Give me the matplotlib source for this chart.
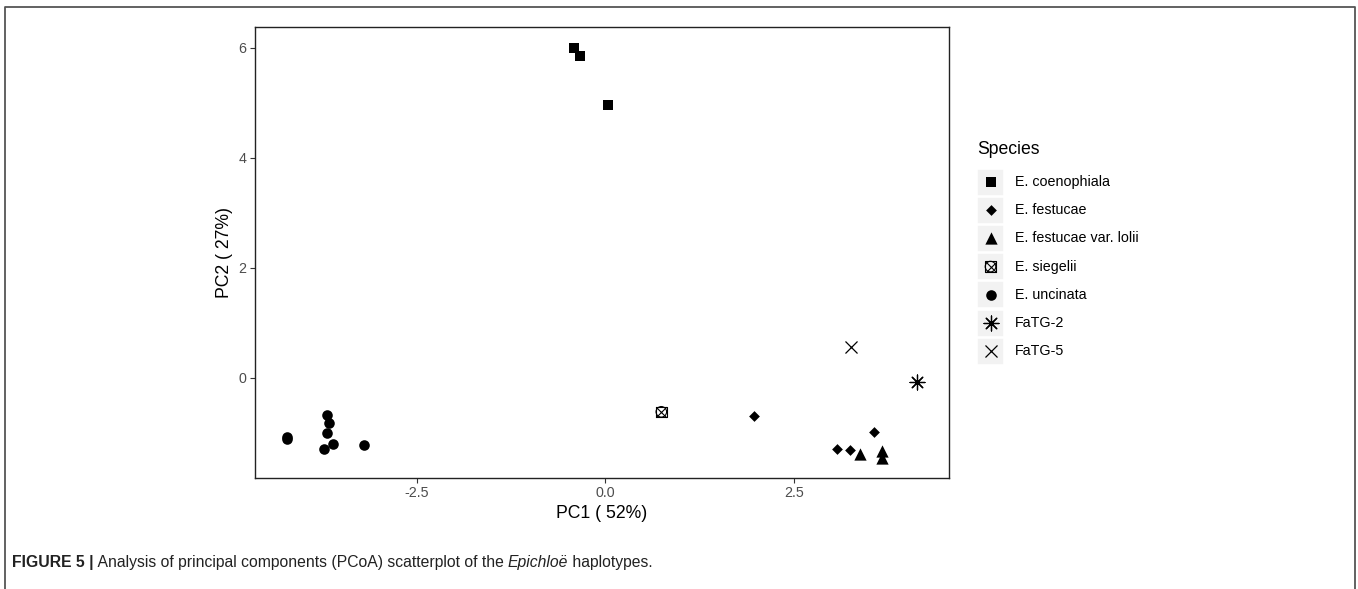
import matplotlib
matplotlib.use("Agg")
import matplotlib.pyplot as plt
from matplotlib import font_manager
from matplotlib.patches import Rectangle
from matplotlib.lines import Line2D

W, H = 1358, 589
plt.rcParams['font.family'] = ['Liberation Sans', 'DejaVu Sans']

# ---------------- data ----------------
species = ["E. coenophiala", "E. festucae", "E. festucae var. lolii",
           "E. siegelii", "E. uncinata", "FaTG-2", "FaTG-5"]
coen_x = [-0.41, -0.34, 0.03]
coen_y = [6.00, 5.85, 4.95]
fest_x = [1.97, 3.56, 3.07, 3.24]
fest_y = [-0.69, -0.98, -1.30, -1.32]
loli_x = [3.37, 3.66, 3.66]
loli_y = [-1.38, -1.34, -1.45]
sieg_x = [0.74]
sieg_y = [-0.62]
unci_x = [-4.22, -4.22, -3.68, -3.66, -3.69, -3.61, -3.73, -3.19]
unci_y = [-1.07, -1.12, -0.67, -0.83, -1.00, -1.20, -1.29, -1.23]
fatg2_x = [4.13]
fatg2_y = [-0.07]
fatg5_x = [3.25]
fatg5_y = [0.56]
x_ticks = [-2.5, 0.0, 2.5]
x_ticklabels = ["-2.5", "0.0", "2.5"]
y_ticks = [0, 2, 4, 6]
y_ticklabels = ["0", "2", "4", "6"]
x_title = "PC1 ( 52%)"
y_title = "PC2 ( 27%)"
legend_title = "Species"

fig = plt.figure(figsize=(W / 100, H / 100), dpi=100)
fig.patch.set_facecolor("white")

L, R, T, B = 255, 949, 27, 478
ax = fig.add_axes([L / W, 1 - B / H, (R - L) / W, (B - T) / H])

# marker styles (shared by plot and legend)
styles = {
    "E. coenophiala": [dict(marker="s", s=55, c="black", linewidths=0)],
    "E. festucae": [dict(marker="D", s=30, c="black", linewidths=0)],
    "E. festucae var. lolii": [dict(marker="^", s=78, c="black", linewidths=0)],
    "E. siegelii": [dict(marker="s", s=58, facecolors="none", edgecolors="black", linewidths=0.8),
                    dict(marker="x", s=58, c="black", linewidths=0.8),
                    dict(marker="o", s=58, facecolors="none", edgecolors="black", linewidths=0.8)],
    "E. uncinata": [dict(marker="o", s=58, c="black", linewidths=0)],
    "FaTG-2": [dict(marker=(8, 2, 0), s=115, c="black", linewidths=0.9)],
    "FaTG-5": [dict(marker="x", s=75, c="black", linewidths=0.9)],
}
series = {
    "E. coenophiala": (coen_x, coen_y),
    "E. festucae": (fest_x, fest_y),
    "E. festucae var. lolii": (loli_x, loli_y),
    "E. siegelii": (sieg_x, sieg_y),
    "E. uncinata": (unci_x, unci_y),
    "FaTG-2": (fatg2_x, fatg2_y),
    "FaTG-5": (fatg5_x, fatg5_y),
}
for name in species:
    xs, ys = series[name]
    for st in styles[name]:
        ax.scatter(xs, ys, zorder=3, **st)

allx = coen_x + fest_x + loli_x + sieg_x + unci_x + fatg2_x + fatg5_x
ally = coen_y + fest_y + loli_y + sieg_y + unci_y + fatg2_y + fatg5_y
dx = (max(allx) - min(allx)) * 0.05
dy = (max(ally) - min(ally)) * 0.05
ax.set_xlim(min(allx) - dx, max(allx) + dx)
ax.set_ylim(min(ally) - dy, max(ally) + dy)

ax.set_xticks(x_ticks)
ax.set_xticklabels(x_ticklabels)
ax.set_yticks(y_ticks)
ax.set_yticklabels(y_ticklabels)
ax.tick_params(length=3.5, width=0.8, color="#333333", labelcolor="#4D4D4D",
               labelsize=10.3, pad=2.5)
for sp in ax.spines.values():
    sp.set_color("#222222")
    sp.set_linewidth(1.0)
ax.set_xlabel(x_title, fontsize=12.7, labelpad=3)
ax.set_ylabel(y_title, fontsize=12.7, labelpad=4)

# ---------------- overlay (legend, frame, caption) ----------------
ov = fig.add_axes([0, 0, 1, 1], facecolor="none")
ov.set_xlim(0, W)
ov.set_ylim(H, 0)
ov.axis("off")

ov.text(977, 150, legend_title, fontsize=12.7, va="center", ha="left", color="black")
row0, step = 182, 28.2
for i, name in enumerate(species):
    yc = row0 + i * step
    ov.add_patch(Rectangle((977, yc - 13.5), 27, 27, facecolor="#F2F2F2",
                           edgecolor="white", linewidth=1.2))
    for st in styles[name]:
        ov.scatter([990.5], [yc], zorder=3, **st)
    ov.text(1015, yc, name, fontsize=10.3, va="center", ha="left", color="black")

# figure frame (left, top, right)
ov.add_line(Line2D([5, 5, 1355, 1355], [H, 7, 7, H], color="#555555", linewidth=1.3))

# caption
avail = {f.name for f in font_manager.fontManager.ttflist}
cap_font = ['Liberation Sans Narrow', 'Liberation Sans', 'DejaVu Sans'] if 'Liberation Sans Narrow' in avail else ['Liberation Sans', 'DejaVu Sans']
pieces = [("FIGURE 5 |", "bold", "normal"),
          (" Analysis of principal components (PCoA) scatterplot of the ", "normal", "normal"),
          ("Epichloë", "normal", "italic"),
          (" haplotypes.", "normal", "normal")]
fig.canvas.draw()
renderer = fig.canvas.get_renderer()
xpos = 12
for txt, wt, stl in pieces:
    t = ov.text(xpos, 562, txt, fontsize=11.3, fontweight=wt, fontstyle=stl,
                family=cap_font, va="center", ha="left", color="#222222")
    bb = t.get_window_extent(renderer=renderer)
    xpos += bb.width

fig.savefig("out.png", dpi=100, facecolor="white")
